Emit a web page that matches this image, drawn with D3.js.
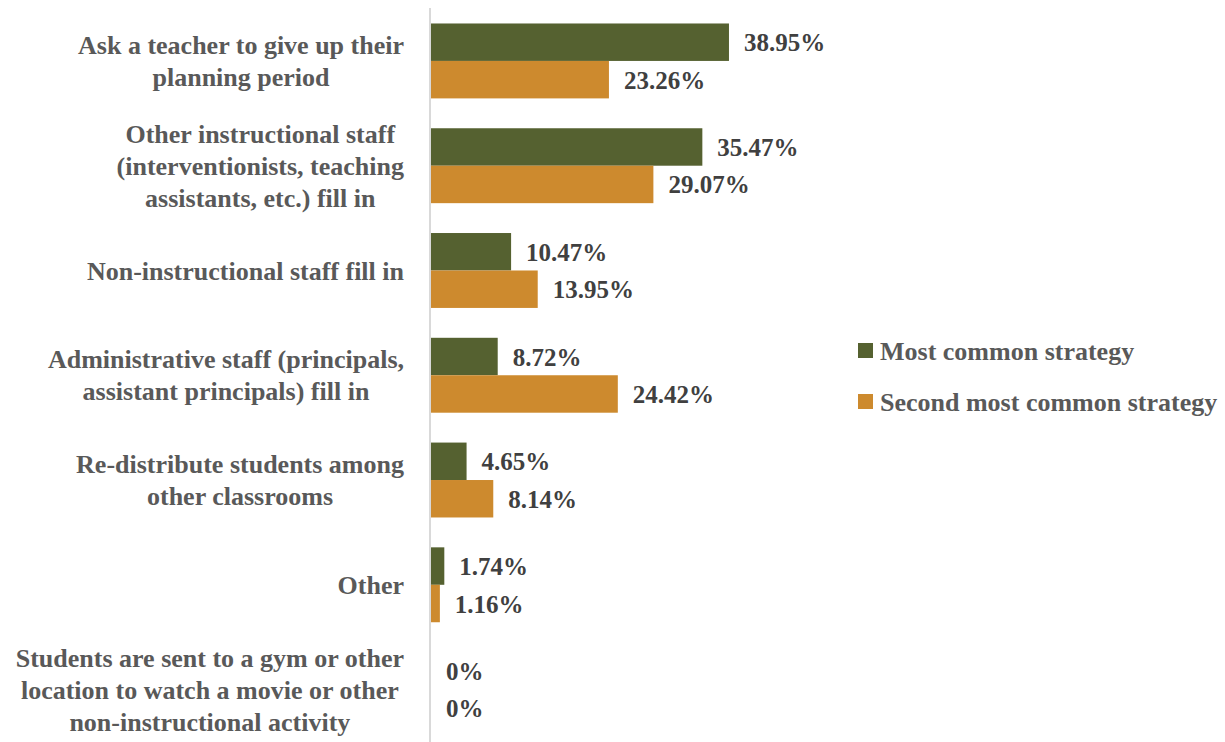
<!DOCTYPE html>
<html>
<head>
<meta charset="utf-8">
<script src="https://cdn.jsdelivr.net/npm/d3@7"></script>
<style>
  html, body { margin: 0; padding: 0; background: #fff; }
  svg { display: block; }
  .lbl { font-family: "Liberation Serif", "Times New Roman", Tinos, "DejaVu Serif", "Noto Serif", serif; font-weight: bold; }
</style>
</head>
<body>
<svg id="chart" width="1225" height="742"></svg>
<script>
// Strategies used when a teacher is absent, with share of responses
const categories = [
  ["Ask a teacher to give up their", "planning period"],
  ["Other instructional staff", "(interventionists, teaching", "assistants, etc.) fill in"],
  ["Non-instructional staff fill in"],
  ["Administrative staff (principals,", "assistant principals) fill in"],
  ["Re-distribute students among", "other classrooms"],
  ["Other"],
  ["Students are sent to a gym or other", "location to watch a movie or other", "non-instructional activity"]
];
const mostCommon = [38.95, 35.47, 10.47, 8.72, 4.65, 1.74, 0];
const secondMost = [23.26, 29.07, 13.95, 24.42, 8.14, 1.16, 0];
const seriesNames = ["Most common strategy", "Second most common strategy"];
const seriesColors = ["#556130", "#CD8A2E"];

const svg = d3.select("#chart");
const margin = { left: 431, top: 8.5 };
const H = 742;

const x = d3.scaleLinear().domain([0, 50]).range([margin.left, margin.left + 50 * 7.65]);
const y = d3.scaleBand().domain(d3.range(categories.length)).range([margin.top, H]).paddingInner(0.285).paddingOuter(0.143);
const sub = d3.scaleBand().domain([0, 1]).range([0, y.bandwidth()]);

// bars and value labels
const series = [mostCommon, secondMost];
series.forEach((vals, si) => {
  svg.append("g").selectAll("rect").data(vals).join("rect")
    .attr("x", x(0))
    .attr("y", (d, i) => y(i) + sub(si))
    .attr("width", d => x(d) - x(0))
    .attr("height", sub.bandwidth())
    .attr("fill", seriesColors[si]);

  svg.append("g").selectAll("text").data(vals).join("text")
    .attr("class", "lbl")
    .attr("x", d => x(d) + 15)
    .attr("y", (d, i) => y(i) + sub(si) + sub.bandwidth() / 2)
    .attr("dy", "0.36em")
    .attr("font-size", 25)
    .attr("fill", "#404040")
    .text(d => (d === 0 ? "0" : d.toFixed(2)) + "%");
});

// vertical axis line
svg.append("line")
  .attr("x1", x(0) - 1).attr("x2", x(0) - 1)
  .attr("y1", 8).attr("y2", H)
  .attr("stroke", "#d9d9d9").attr("stroke-width", 2);

// category labels
const lineH = 32;
const cat = svg.append("g").selectAll("text").data(categories).join("text")
  .attr("class", "lbl")
  .attr("text-anchor", "middle")
  .attr("font-size", 26)
  .attr("fill", "#595959");
cat.each(function(lines, i) {
  const t = d3.select(this);
  const cy = y(i) + y.bandwidth() / 2;
  const y0 = cy - (lines.length - 1) * lineH / 2;
  lines.forEach((ln, k) => {
    t.append("tspan").attr("y", y0 + k * lineH).attr("dy", "0.35em").text(ln);
  });
});
// right-align each block by its widest line, centring lines within the block
cat.each(function() {
  const t = d3.select(this);
  let maxW = 0;
  t.selectAll("tspan").each(function() { maxW = Math.max(maxW, this.getComputedTextLength()); });
  t.selectAll("tspan").attr("x", 404 - maxW / 2);
});

// legend
const legend = svg.append("g").selectAll("g").data(seriesNames).join("g")
  .attr("transform", (d, i) => `translate(858, ${343 + i * 51})`);
legend.append("rect").attr("width", 15).attr("height", 15).attr("fill", (d, i) => seriesColors[i]);
legend.append("text")
  .attr("class", "lbl")
  .attr("x", 22).attr("y", 7.5).attr("dy", "0.35em")
  .attr("font-size", 26)
  .attr("fill", "#595959")
  .text(d => d);
</script>
</body>
</html>
